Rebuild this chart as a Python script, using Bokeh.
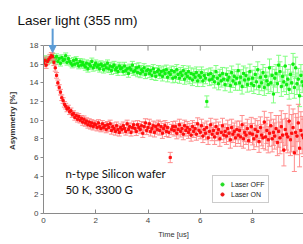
import numpy as np
from bokeh.plotting import figure
from bokeh.models import (ColumnDataSource, Range1d, Label, Arrow, Span,
                          NormalHead, Legend, LegendItem, FixedTicker)
from bokeh.embed import file_html
from bokeh.resources import INLINE

# ---------------- data ----------------
TIME_STEP = 0.05          # us between points
N_POINTS = 200

laser_off = [
    16.3, 16.6, 16.2, 16.5, 16.4, 16.7, 16.5, 16.9, 16.4, 16.6,
    16.8, 16.3, 16.6, 16.1, 16.7, 16.4, 16.5, 16.9, 16.2, 16.6,
    16.3, 16.1, 15.9, 16.4, 16.0, 16.5, 16.1, 15.8, 16.3, 15.9,
    16.2, 15.9, 15.7, 16.1, 15.5, 16.0, 15.8, 16.3, 15.6, 15.9,
    16.1, 15.7, 15.9, 15.5, 16.0, 15.8, 15.4, 15.9, 15.6, 16.1,
    15.5, 15.8, 15.3, 15.7, 15.9, 15.4, 15.6, 15.2, 15.8, 15.5,
    15.6, 15.2, 15.8, 15.3, 15.5, 15.0, 15.6, 15.4, 15.9, 15.2,
    15.3, 15.6, 15.1, 15.7, 15.0, 15.4, 15.2, 15.6, 14.9, 15.3,
    15.4, 15.0, 15.3, 14.8, 15.5, 15.1, 14.7, 15.2, 15.4, 14.9,
    15.2, 14.7, 15.3, 15.0, 15.4, 14.6, 15.1, 14.9, 15.3, 14.5,
    15.2, 14.6, 15.4, 14.9, 14.5, 15.1, 14.8, 15.3, 14.4, 15.0,
    14.7, 15.2, 14.5, 15.0, 14.3, 14.9, 14.6, 15.1, 14.2, 14.8,
    14.6, 15.1, 14.2, 14.8, 14.5, 12.0, 14.9, 14.3, 15.0, 14.4,
    14.7, 14.1, 15.2, 14.5, 13.9, 14.8, 14.2, 15.0, 14.4, 13.8,
    14.9, 14.3, 14.6, 13.7, 15.1, 14.2, 14.7, 13.9, 14.5, 15.3,
    14.0, 14.6, 13.6, 15.0, 14.3, 14.8, 13.8, 14.4, 15.2, 13.9,
    14.5, 13.7, 14.9, 14.1, 15.4, 13.6, 14.6, 14.0, 15.1, 13.5,
    14.7, 14.2, 13.8, 15.6, 14.0, 14.8, 12.8, 14.5, 15.0, 13.9,
    15.9, 15.2, 13.6, 14.7, 14.1, 15.8, 13.8, 14.4, 13.3, 14.9,
    14.0, 16.0, 13.5, 15.6, 13.9, 14.4, 12.6, 14.8, 14.1, 13.7,
]
# error bar half-length, one value per 0.5 us block
laser_off_err_blocks = [0.3, 0.3, 0.3, 0.35, 0.35, 0.4, 0.4, 0.45, 0.45, 0.5,
                        0.55, 0.6, 0.6, 0.65, 0.7, 0.8, 0.85, 0.95, 1.05, 1.15]

laser_on = [
    16.1, 16.4, 15.9, 16.3, 16.5, 16.7, 16.9, 16.8, 16.2, 15.6,
    14.8, 14.0, 13.5, 13.0, 12.4, 12.1, 11.7, 11.5, 11.2, 11.3,
    10.9, 11.0, 10.6, 10.7, 10.3, 10.5, 10.1, 10.4, 10.0, 10.2,
    9.8, 10.1, 9.7, 9.9, 9.5, 9.8, 9.4, 9.7, 9.3, 9.6,
    9.5, 9.2, 9.7, 9.3, 9.1, 9.6, 9.2, 9.4, 9.0, 9.5,
    9.2, 9.6, 8.9, 9.3, 9.1, 8.8, 9.4, 9.0, 8.7, 9.2,
    9.0, 9.4, 9.1, 8.8, 9.6, 9.0, 9.3, 8.7, 9.2, 9.5,
    9.1, 8.8, 9.5, 9.2, 9.0, 9.4, 8.6, 9.3, 9.7, 8.9,
    9.2, 9.6, 8.8, 9.1, 9.4, 8.7, 9.3, 9.0, 9.5, 8.9,
    9.3, 8.6, 9.1, 9.4, 8.8, 9.2, 8.7, 6.0, 9.0, 9.3,
    8.9, 9.3, 8.6, 9.0, 9.5, 8.8, 9.1, 8.5, 9.4, 8.9,
    9.2, 8.7, 9.0, 8.4, 9.3, 8.8, 9.1, 8.5, 9.6, 8.9,
    8.7, 9.4, 8.3, 9.0, 8.6, 9.2, 8.1, 8.8, 9.5, 8.5,
    8.9, 8.2, 9.3, 8.6, 9.0, 8.0, 8.7, 9.4, 8.4, 8.8,
    8.3, 9.1, 8.6, 7.9, 9.2, 8.5, 8.8, 8.1, 9.0, 8.4,
    8.9, 8.2, 9.5, 8.0, 8.7, 8.4, 9.1, 7.8, 8.6, 9.3,
    8.5, 8.0, 9.0, 8.3, 8.8, 7.7, 9.2, 8.4, 8.1, 9.8,
    8.2, 8.9, 7.9, 8.6, 9.4, 8.0, 8.7, 8.3, 9.1, 7.6,
    8.8, 8.1, 9.3, 8.4, 6.8, 9.0, 8.5, 8.2, 9.9, 7.9,
    8.6, 9.2, 6.5, 8.7, 8.3, 9.7, 7.0, 8.9, 8.4, 8.1,
]
laser_on_err_blocks = [0.35, 0.3, 0.3, 0.35, 0.35, 0.4, 0.4, 0.45, 0.5, 0.55,
                       0.6, 0.65, 0.7, 0.8, 0.9, 1.0, 1.15, 1.4, 1.7, 2.0]

x_ticks = [0, 2, 4, 6, 8, 10]
top_ticks = [2, 4, 6, 8]
y_ticks = [0, 2, 4, 6, 8, 10, 12, 14, 16, 18]
Y_MAX = 18

# ---------------- build sources ----------------
t = np.arange(N_POINTS) * TIME_STEP


def make_source(vals, err_blocks):
    v = np.array(vals)
    e = np.repeat(err_blocks, N_POINTS // len(err_blocks))
    return ColumnDataSource(dict(t=t, v=v, lo=np.minimum(v - e, Y_MAX),
                                 hi=np.minimum(v + e, Y_MAX)))


src_off = make_source(laser_off, laser_off_err_blocks)
src_on = make_source(laser_on, laser_on_err_blocks)

# ---------------- figure ----------------
p = figure(width=303, height=244, output_backend="svg", toolbar_location=None,
           x_range=Range1d(0, 9.95), y_range=Range1d(0, 19.82),
           min_border_left=43, min_border_right=0, min_border_top=28,
           min_border_bottom=31)
p.outline_line_color = None
p.grid.visible = False
p.background_fill_color = "white"
p.border_fill_color = "white"

# caption above the plot, as the title
p.title.text = "Laser light (355 nm)"
p.title.text_font = "Liberation Sans"
p.title.text_font_size = "13.5px"
p.title.text_font_style = "normal"
p.title.text_color = "#111111"
p.title.align = "left"
p.title.offset = -26
p.title.standoff = 1

AX = "#8a8a8a"
LBL = "#444444"

# y axis (ticks outside), bounded to the data box
p.yaxis.ticker = FixedTicker(ticks=y_ticks)
p.yaxis.bounds = (0, Y_MAX)
p.yaxis.axis_line_color = AX
p.yaxis.major_tick_line_color = AX
p.yaxis.major_tick_out = 3
p.yaxis.major_tick_in = 0
p.yaxis.minor_tick_line_color = None
p.yaxis.major_label_text_font = "Liberation Sans"
p.yaxis.major_label_text_font_size = "8px"
p.yaxis.major_label_text_color = LBL
p.yaxis.major_label_standoff = 2
p.yaxis.axis_label = "Asymmetry [%]"
p.yaxis.axis_label_text_font = "Liberation Sans"
p.yaxis.axis_label_text_font_size = "8px"
p.yaxis.axis_label_text_font_style = "bold"
p.yaxis.axis_label_text_color = "#333333"
p.yaxis.axis_label_standoff = 10

# x axis (ticks inside)
p.xaxis.ticker = FixedTicker(ticks=x_ticks)
p.xaxis.axis_line_color = AX
p.xaxis.major_tick_line_color = AX
p.xaxis.major_tick_out = 0
p.xaxis.major_tick_in = 4
p.xaxis.minor_tick_line_color = None
p.xaxis.major_label_text_font = "Liberation Sans"
p.xaxis.major_label_text_font_size = "8px"
p.xaxis.major_label_text_color = LBL
p.xaxis.major_label_standoff = 4
p.xaxis.axis_label = "Time [us]"
p.xaxis.axis_label_text_font = "Liberation Sans"
p.xaxis.axis_label_text_font_size = "7.5px"
p.xaxis.axis_label_text_font_style = "normal"
p.xaxis.axis_label_text_color = "#333333"
p.xaxis.axis_label_standoff = 4

# top edge of the data box with inward ticks
p.add_layout(Span(location=Y_MAX, dimension="width", line_color=AX,
                  line_width=1))
p.segment(x0=top_ticks, y0=[Y_MAX] * len(top_ticks), x1=top_ticks,
          y1=[Y_MAX - 0.55] * len(top_ticks), line_color=AX, line_width=1)

# ---------------- data glyphs ----------------
GREEN_BAR = "#80ff80"
GREEN_PT = "#10ee10"
RED_BAR = "#ff8c8c"
RED_PT = "#ff0d0d"

for src, bar, pt in ((src_off, GREEN_BAR, GREEN_PT), (src_on, RED_BAR, RED_PT)):
    p.segment(x0="t", y0="lo", x1="t", y1="hi", source=src,
              line_color=bar, line_width=1)
    p.scatter(x="t", y="lo", source=src, marker="dash", size=5,
              line_color=bar, line_width=1)
    p.scatter(x="t", y="hi", source=src, marker="dash", size=5,
              line_color=bar, line_width=1)
    p.scatter(x="t", y="v", source=src, marker="square", size=2.2,
              fill_color=pt, line_color=pt)

# ---------------- legend ----------------
leg_off = p.scatter(x=[np.nan], y=[np.nan], marker="circle", size=6,
                    fill_color="#22dd22", line_color="#22dd22")
leg_on = p.scatter(x=[np.nan], y=[np.nan], marker="circle", size=6,
                   fill_color="#ee1111", line_color="#ee1111")
legend = Legend(items=[LegendItem(label="Laser OFF", renderers=[leg_off]),
                       LegendItem(label="Laser ON", renderers=[leg_on])],
                location=(169, 10), label_text_font="Liberation Sans",
                label_text_font_size="7px", label_text_color="#222222",
                label_height=8, label_standoff=4, glyph_width=10,
                glyph_height=8, spacing=2, padding=4, margin=0,
                border_line_color="#999999", border_line_width=1,
                background_fill_alpha=1.0)
p.add_layout(legend, "center")

# ---------------- annotations ----------------
p.add_layout(Arrow(x_start=0.35, y_start=19.85, x_end=0.35, y_end=17.25,
                   line_color="#5b9bd5", line_width=2,
                   end=NormalHead(size=7, fill_color="#5b9bd5",
                                  line_color="#5b9bd5")))
p.add_layout(Label(x=0.84, y=4.29, text="n-type Silicon wafer",
                   text_font="Lato", text_font_size="11.5px",
                   text_color="#111111", text_baseline="middle"))
p.add_layout(Label(x=0.84, y=2.57, text="50 K, 3300 G",
                   text_font="Lato", text_font_size="11.5px",
                   text_color="#111111", text_baseline="middle"))

open("out.html", "w").write(file_html(p, INLINE))
